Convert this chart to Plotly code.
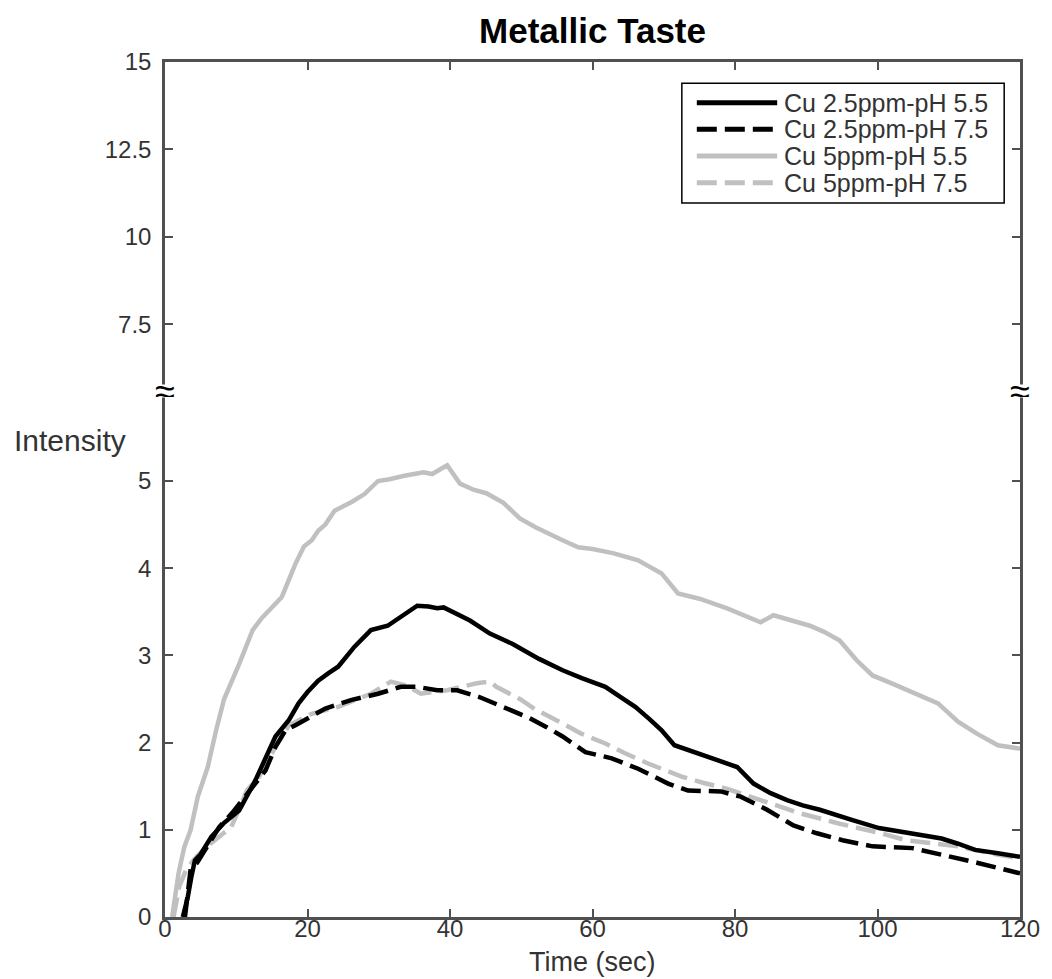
import plotly.graph_objects as go

# ---------------- data ----------------
series_names = ["Cu 2.5ppm-pH 5.5", "Cu 2.5ppm-pH 7.5", "Cu 5ppm-pH 5.5", "Cu 5ppm-pH 7.5"]

t_cu25_ph55 = [2.5, 3.2, 3.7, 4.2, 5.0, 6.5, 8.3, 10.4, 12.7, 14.6, 15.5, 17.4, 18.75, 20.0, 21.5, 23.0,
               24.3, 26.6, 28.9, 31.25, 33.1, 35.4, 37.0, 38.2, 39.1, 41.0, 42.8, 45.6, 48.8, 52.5, 55.8,
               58.5, 61.8, 64.0, 66.0, 68.0, 69.7, 71.5, 74.3, 77.0, 80.3, 82.6, 85.0, 87.3, 89.5, 91.9,
               94.0, 96.5, 100.2, 103.0, 106.7, 109.0, 111.3, 113.7, 116.9, 120.0]
v_cu25_ph55 = [0.0, 0.23, 0.46, 0.65, 0.72, 0.92, 1.08, 1.22, 1.57, 1.91, 2.07, 2.26, 2.45, 2.58, 2.71, 2.80,
               2.87, 3.10, 3.29, 3.34, 3.44, 3.57, 3.56, 3.54, 3.55, 3.48, 3.40, 3.25, 3.13, 2.96, 2.83,
               2.74, 2.64, 2.52, 2.41, 2.27, 2.14, 1.97, 1.89, 1.82, 1.72, 1.53, 1.42, 1.34, 1.28, 1.23,
               1.17, 1.11, 1.02, 0.98, 0.94, 0.90, 0.84, 0.77, 0.73, 0.69]

t_cu25_ph75 = [2.8, 3.3, 3.6, 4.5, 5.5, 7.6, 9.5, 11.8, 14.1, 15.5, 16.9, 18.3, 19.7, 22.5, 26.2, 29.9,
               33.1, 35.4, 38.2, 41.0, 44.2, 47.5, 51.2, 53.5, 55.8, 59.0, 62.7, 66.4, 70.6, 73.4, 78.0,
               80.8, 84.5, 88.2, 91.5, 95.1, 99.3, 104.9, 109.5, 114.1, 120.0]
v_cu25_ph75 = [0.0, 0.30, 0.55, 0.62, 0.75, 1.03, 1.20, 1.45, 1.68, 1.95, 2.14, 2.20, 2.26, 2.39, 2.49, 2.56,
               2.64, 2.64, 2.60, 2.60, 2.52, 2.41, 2.28, 2.18, 2.07, 1.89, 1.82, 1.70, 1.53, 1.45, 1.44,
               1.38, 1.23, 1.05, 0.96, 0.88, 0.81, 0.79, 0.71, 0.62, 0.50]

t_cu5_ph55 = [1.0, 1.9, 2.7, 3.6, 4.6, 6.0, 7.2, 8.3, 10.4, 12.3, 13.6, 15.0, 16.4, 18.3, 19.5, 20.6, 21.5,
              22.5, 23.8, 26.2, 28.0, 29.9, 31.5, 33.6, 36.3, 37.5, 39.6, 41.4, 43.3, 45.1, 47.5, 49.8,
              52.0, 55.8, 58.0, 60.0, 63.0, 66.4, 69.7, 72.0, 75.0, 78.9, 83.6, 85.4, 88.0, 90.5, 92.5,
              94.7, 97.0, 99.3, 102.0, 106.3, 108.5, 111.3, 114.0, 116.9, 120.0]
v_cu5_ph55 = [0.0, 0.50, 0.80, 1.00, 1.38, 1.72, 2.15, 2.50, 2.90, 3.29, 3.43, 3.55, 3.67, 4.05, 4.25, 4.32,
              4.43, 4.50, 4.66, 4.76, 4.85, 5.00, 5.02, 5.06, 5.10, 5.08, 5.18, 4.97, 4.90, 4.86, 4.75,
              4.57, 4.47, 4.32, 4.24, 4.22, 4.17, 4.09, 3.94, 3.71, 3.65, 3.54, 3.38, 3.46, 3.40, 3.34,
              3.27, 3.17, 2.95, 2.77, 2.68, 2.52, 2.45, 2.24, 2.10, 1.97, 1.93]

t_cu5_ph75 = [1.2, 2.0, 3.0, 4.5, 6.5, 9.3, 11.5, 13.2, 15.5, 17.4, 20.6, 24.3, 28.9, 31.7, 34.0, 35.9,
              39.6, 43.75, 45.6, 46.5, 49.8, 52.0, 55.8, 58.5, 61.8, 64.5, 67.8, 72.5, 75.5, 78.9, 83.6,
              86.5, 89.1, 94.7, 97.5, 100.5, 104.0, 107.5, 111.3, 116.0, 120.0]
v_cu5_ph75 = [0.0, 0.35, 0.55, 0.70, 0.85, 1.03, 1.45, 1.61, 1.95, 2.20, 2.33, 2.41, 2.56, 2.70, 2.65, 2.56,
              2.60, 2.68, 2.70, 2.64, 2.50, 2.38, 2.22, 2.10, 1.99, 1.88, 1.76, 1.61, 1.54, 1.47, 1.34,
              1.26, 1.19, 1.07, 1.02, 0.96, 0.88, 0.85, 0.81, 0.73, 0.67]

x_ticks = [0, 20, 40, 60, 80, 100, 120]
y_ticks_low = [0, 1, 2, 3, 4, 5]
y_ticks_high = [7.5, 10, 12.5, 15]
y_ticktext_high = ["7.5", "10", "12.5", "15"]

# ---------------- styling ----------------
FONT = "Liberation Sans, Arial, sans-serif"
AX = "#505050"
TXT = "#333333"
LIGHT = "#c0c0c0"
styles = [
    dict(color="black", dash="solid"),
    dict(color="black", dash="20px,8px"),
    dict(color=LIGHT, dash="solid"),
    dict(color=LIGHT, dash="20px,8px"),
]
xs = [t_cu25_ph55, t_cu25_ph75, t_cu5_ph55, t_cu5_ph75]
ys = [v_cu25_ph55, v_cu25_ph75, v_cu5_ph55, v_cu5_ph75]

fig = go.Figure()
# draw light lines first so black lines sit on top
for i in [2, 3, 0, 1]:
    fig.add_trace(go.Scatter(x=xs[i], y=ys[i], mode="lines", name=series_names[i],
                             line=dict(color=styles[i]["color"], dash=styles[i]["dash"], width=4.5),
                             showlegend=False, xaxis="x", yaxis="y"))
# empty trace so the upper (broken) axis segment and the top axis get drawn
fig.add_trace(go.Scatter(x=[None], y=[None], mode="lines", showlegend=False, hoverinfo="skip",
                         xaxis="x2", yaxis="y2"))

BREAK = 0.615
axis_common = dict(showline=True, linecolor=AX, linewidth=2.5, ticks="inside", ticklen=8,
                   tickwidth=2, tickcolor=AX, showgrid=False, zeroline=False,
                   tickfont=dict(family=FONT, size=24, color=TXT))

fig.update_layout(
    width=1052, height=979,
    margin=dict(l=165, r=23, t=62, b=62),
    paper_bgcolor="white", plot_bgcolor="white",
    showlegend=False,
    title=dict(text="<b>Metallic Taste</b>", x=0.5, xref="paper", y=1 - 31 / 979, yref="container",
               xanchor="center", yanchor="middle", font=dict(family=FONT, size=35, color="black")),
    xaxis=dict(domain=[0, 1], range=[0, 120], anchor="y", tickvals=x_ticks, mirror=False,
               ticklabelstandoff=-12, **axis_common),
    xaxis2=dict(domain=[0, 1], range=[0, 120], anchor="y2", side="top", overlaying="x",
                tickvals=x_ticks, showticklabels=False, **axis_common),
    yaxis=dict(domain=[0, BREAK], range=[0, 6.03], anchor="x", tickvals=y_ticks_low,
               mirror="ticks", ticklabelstandoff=6, **axis_common),
    yaxis2=dict(domain=[BREAK, 1], range=[5.59, 15], anchor="x2", tickvals=y_ticks_high,
                ticktext=y_ticktext_high, mirror="ticks", ticklabelstandoff=6, **axis_common),
)

# axis labels
fig.add_annotation(text="Intensity", xref="paper", yref="paper", x=-0.043, y=0.557,
                   xanchor="right", yanchor="middle", showarrow=False,
                   font=dict(family=FONT, size=30, color=TXT))
fig.add_annotation(text="Time (sec)", xref="paper", yref="paper", x=0.5, y=-0.0525,
                   xanchor="center", yanchor="middle", showarrow=False,
                   font=dict(family=FONT, size=27, color=TXT))

# axis break marks
for xp in [0, 1]:
    fig.add_annotation(text="≈", xref="paper", yref="paper", x=xp, y=BREAK,
                       xanchor="center", yanchor="middle", showarrow=False,
                       bgcolor="white", width=22, height=12, borderpad=0,
                       font=dict(family=FONT, size=36, color="black"))

# manual legend (matches reference's long legend lines)
lx0, lx1 = 0.6045, 0.9815
ly0, ly1 = 0.8351, 0.9751
fig.add_shape(type="rect", xref="paper", yref="paper", x0=lx0, x1=lx1, y0=ly0, y1=ly1,
              line=dict(color="black", width=1.5), fillcolor="white", layer="above")
rows = [0.9524, 0.9213, 0.8901, 0.8588]
for i, yr in enumerate(rows):
    fig.add_shape(type="line", xref="paper", yref="paper", x0=0.622, x1=0.716, y0=yr, y1=yr,
                  line=dict(color=styles[i]["color"], dash=styles[i]["dash"], width=5), layer="above")
    fig.add_annotation(text=series_names[i], xref="paper", yref="paper", x=0.7215, y=yr,
                       xanchor="left", yanchor="middle", showarrow=False,
                       font=dict(family=FONT, size=25, color=TXT))

fig.write_html("out.html")
